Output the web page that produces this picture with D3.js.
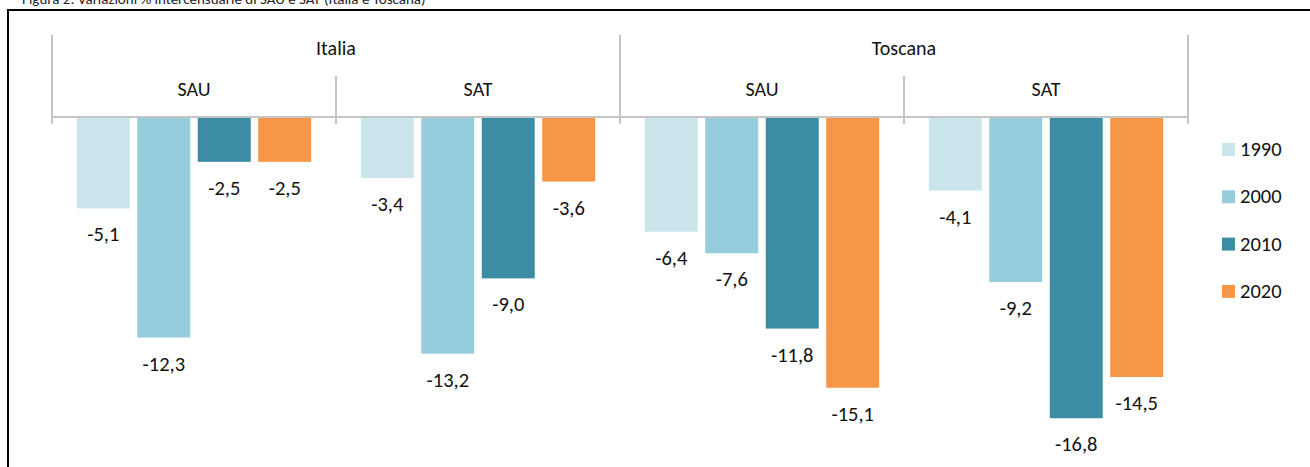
<!DOCTYPE html>
<html>
<head>
<meta charset="utf-8">
<script src="https://cdn.jsdelivr.net/npm/d3@7"></script>
<style>
  body { margin: 0; background: #fff; }
  svg { font-family: Carlito, Calibri, Lato, sans-serif; }
</style>
</head>
<body>
<div class="chart"></div>
<script>
// Data
var areas = ["Italia", "Toscana"];
var measures = ["SAU", "SAT"];
var years = ["1990", "2000", "2010", "2020"];
var italiaSAU = [-5.1, -12.3, -2.5, -2.5];
var italiaSAT = [-3.4, -13.2, -9.0, -3.6];
var toscanaSAU = [-6.4, -7.6, -11.8, -15.1];
var toscanaSAT = [-4.1, -9.2, -16.8, -14.5];
var colors = ["#cbe5ed", "#95cddd", "#3c8ca4", "#f79646"];

var svgWidth = 1310;
var svgHeight = 467;

var groups = [
  { area: "Italia", measure: "SAU", values: italiaSAU },
  { area: "Italia", measure: "SAT", values: italiaSAT },
  { area: "Toscana", measure: "SAU", values: toscanaSAU },
  { area: "Toscana", measure: "SAT", values: toscanaSAT }
];
groups.forEach(function(g) { g.key = g.area + "-" + g.measure; });

var svg = d3.select(".chart")
  .append("svg")
  .attr("width", svgWidth)
  .attr("height", svgHeight);

// title (cut by the top edge) and frame
svg.append("text")
  .attr("x", 22)
  .attr("y", 4)
  .style("font-size", "15px")
  .attr("fill", "#222")
  .text("Figura 2: Variazioni % intercensuarie di SAU e SAT (Italia e Toscana)");

svg.append("rect")
  .attr("x", 8)
  .attr("y", 10)
  .attr("width", 1400)
  .attr("height", 600)
  .attr("fill", "none")
  .attr("stroke", "#000")
  .attr("stroke-width", 2);

// scales
var x0 = d3.scaleBand()
  .domain(groups.map(function(g) { return g.key; }))
  .range([52, 1188]);

var xArea = d3.scaleBand()
  .domain(areas)
  .range([52, 1188]);

var x1 = d3.scaleBand()
  .domain(years)
  .range([0, x0.bandwidth()])
  .paddingInner(0.124)
  .paddingOuter(0.41);

var y = d3.scaleLinear()
  .domain([-18, 0])
  .range([117 + 18 * 17.93, 117]);

var fmt = function(v) { return d3.format(".1f")(v).replace(".", ",").replace("−", "-"); };

// bars
var g = svg.selectAll(".group")
  .data(groups)
  .enter().append("g")
  .attr("class", "group")
  .attr("transform", function(d) { return "translate(" + x0(d.key) + ",0)"; });

g.selectAll("rect")
  .data(function(d) { return d.values.map(function(v, i) { return { year: years[i], value: v, i: i }; }); })
  .enter().append("rect")
  .attr("x", function(d) { return x1(d.year); })
  .attr("y", y(0))
  .attr("width", x1.bandwidth())
  .attr("height", function(d) { return y(d.value) - y(0); })
  .attr("fill", function(d) { return colors[d.i]; });

g.selectAll(".lbl")
  .data(function(d) { return d.values.map(function(v, i) { return { year: years[i], value: v }; }); })
  .enter().append("text")
  .attr("class", "lbl")
  .attr("x", function(d) { return x1(d.year) + x1.bandwidth() / 2; })
  .attr("y", function(d) { return y(d.value) + 33; })
  .attr("text-anchor", "middle")
  .style("font-size", "20.5px")
  .attr("fill", "#111")
  .text(function(d) { return fmt(d.value); });

// category axis (two levels)
var axisColor = "#c4c4c4";
svg.append("line")
  .attr("x1", 52).attr("x2", 1188)
  .attr("y1", y(0)).attr("y2", y(0))
  .attr("stroke", axisColor).attr("stroke-width", 2);

var outerTicks = areas.map(function(a) { return xArea(a); }).concat([xArea.range()[1]]);
svg.selectAll(".outerTick")
  .data(outerTicks)
  .enter().append("line")
  .attr("x1", function(d) { return d; }).attr("x2", function(d) { return d; })
  .attr("y1", 35).attr("y2", 124)
  .attr("stroke", axisColor).attr("stroke-width", 2);

svg.selectAll(".innerTick")
  .data(groups.filter(function(d) { return d.measure === "SAT"; }))
  .enter().append("line")
  .attr("x1", function(d) { return x0(d.key); }).attr("x2", function(d) { return x0(d.key); })
  .attr("y1", 76).attr("y2", 124)
  .attr("stroke", axisColor).attr("stroke-width", 2);

svg.selectAll(".measureLabel")
  .data(groups)
  .enter().append("text")
  .attr("x", function(d) { return x0(d.key) + x0.bandwidth() / 2; })
  .attr("y", 96)
  .attr("text-anchor", "middle")
  .style("font-size", "20px")
  .attr("fill", "#111")
  .text(function(d) { return d.measure; });

svg.selectAll(".areaLabel")
  .data(areas)
  .enter().append("text")
  .attr("x", function(d) { return xArea(d) + xArea.bandwidth() / 2; })
  .attr("y", 55)
  .attr("text-anchor", "middle")
  .style("font-size", "20px")
  .attr("fill", "#111")
  .text(function(d) { return d; });

// legend
var legend = svg.selectAll(".legend")
  .data(years)
  .enter().append("g")
  .attr("transform", function(d, i) { return "translate(1222," + (143 + i * 47.3) + ")"; });

legend.append("rect")
  .attr("width", 13).attr("height", 13)
  .attr("fill", function(d, i) { return colors[i]; });

legend.append("text")
  .attr("x", 18)
  .attr("y", 13)
  .style("font-size", "20.5px")
  .attr("fill", "#111")
  .text(function(d) { return d; });
</script>
</body>
</html>
